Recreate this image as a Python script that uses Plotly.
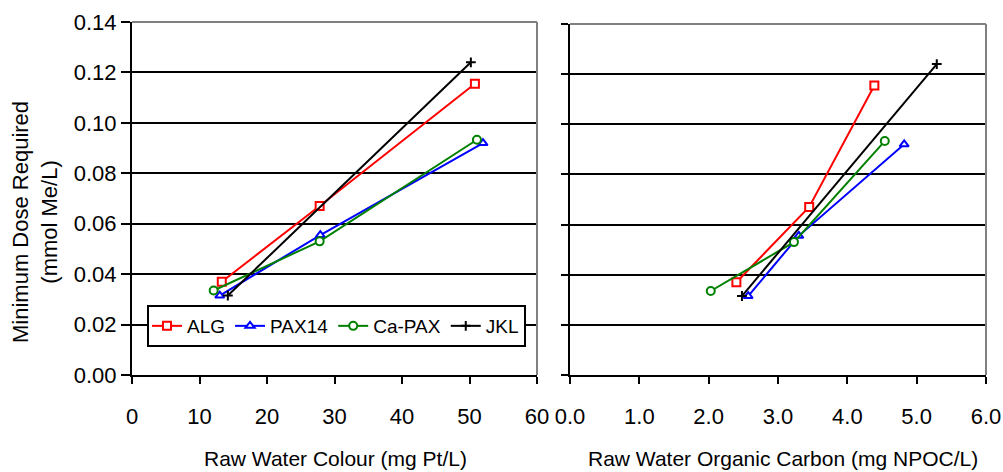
import plotly.graph_objects as go

# ---- data ----
series_names = ["ALG", "PAX14", "Ca-PAX", "JKL"]
colour_x = {
    "ALG": [13.3, 27.8, 50.8],
    "PAX14": [13.0, 27.9, 52.0],
    "Ca-PAX": [12.1, 27.8, 51.1],
    "JKL": [14.2, 50.2],
}
npoc_x = {
    "ALG": [2.40, 3.45, 4.39],
    "PAX14": [2.57, 3.30, 4.82],
    "Ca-PAX": [2.03, 3.23, 4.54],
    "JKL": [2.48, 5.29],
}
dose = {
    "ALG": [0.037, 0.067, 0.1155],
    "PAX14": [0.0315, 0.0555, 0.092],
    "Ca-PAX": [0.0335, 0.053, 0.0933],
    "JKL": [0.0315, 0.124],
}
y_ticks = [0.00, 0.02, 0.04, 0.06, 0.08, 0.10, 0.12, 0.14]
x1_ticks = [0, 10, 20, 30, 40, 50, 60]
x2_ticks = [0.0, 1.0, 2.0, 3.0, 4.0, 5.0, 6.0]

colors = {"ALG": "#FF0000", "PAX14": "#0000FF", "Ca-PAX": "#008000", "JKL": "#000000"}
symbols = {"ALG": "square", "PAX14": "triangle-up", "Ca-PAX": "circle", "JKL": "cross-thin"}

FONT = "Liberation Sans, Arial, sans-serif"
W, H = 1003, 472

fig = go.Figure()
for name in series_names:
    c = colors[name]
    if name == "JKL":
        mk = dict(symbol="cross-thin", size=7, color=c, line=dict(color=c, width=2))
    else:
        mk = dict(symbol=symbols[name], size=8, color="white", line=dict(color=c, width=2))
    fig.add_trace(go.Scatter(x=colour_x[name], y=dose[name], mode="lines+markers", name=name,
                             line=dict(color=c, width=2), marker=mk, xaxis="x", yaxis="y",
                             legendgroup=name, cliponaxis=False))
    fig.add_trace(go.Scatter(x=npoc_x[name], y=dose[name], mode="lines+markers", name=name,
                             line=dict(color=c, width=2), marker=mk, xaxis="x2", yaxis="y2",
                             legendgroup=name, showlegend=False, cliponaxis=False))

# pixel -> paper helpers
def px(x):
    return x / W

def py(y):
    return 1 - y / H

axis_common = dict(showline=True, linecolor="black", linewidth=2, ticks="outside",
                   tickcolor="black", tickwidth=2, zeroline=False, automargin=False,
                   tickfont=dict(family=FONT, size=22, color="black"))

fig.update_layout(
    template="none",
    width=W, height=H, margin=dict(l=0, r=0, t=0, b=0, autoexpand=False),
    paper_bgcolor="white", plot_bgcolor="white",
    font=dict(family=FONT, size=22, color="black"),
    xaxis=dict(domain=[px(132), px(537)], range=[0, 60], tickvals=x1_ticks,
               ticktext=[str(v) for v in x1_ticks], ticklen=7, anchor="y",
               showgrid=False, ticklabelstandoff=14, **axis_common),
    yaxis=dict(domain=[py(375), py(22)], range=[0, 0.14], tickvals=y_ticks,
               ticktext=[f"{v:.2f}" for v in y_ticks], ticklen=9, anchor="x",
               showgrid=True, gridcolor="black", gridwidth=2, **axis_common),
    xaxis2=dict(domain=[px(570), px(986)], range=[0, 6], tickvals=x2_ticks,
                ticktext=[f"{v:.1f}" for v in x2_ticks], ticklen=7, anchor="y2",
                showgrid=False, ticklabelstandoff=14, **axis_common),
    yaxis2=dict(domain=[py(375), py(24)], range=[0, 0.14], tickvals=y_ticks,
                showticklabels=False, ticklen=7, anchor="x2",
                showgrid=True, gridcolor="black", gridwidth=2, **axis_common),
    legend=dict(orientation="h", x=px(147), y=py(305), xanchor="left", yanchor="top",
                bgcolor="white", bordercolor="black", borderwidth=2,
                font=dict(family=FONT, size=19, color="black"),
                itemwidth=30, tracegroupgap=0),
    showlegend=True,
)

# grey top/right border of each plot area
for xr, yr in (("x", "y"), ("x2", "y2")):
    fig.add_shape(type="line", xref=f"{xr} domain", yref=f"{yr} domain", x0=0, x1=1, y0=1, y1=1,
                  line=dict(color="#808080", width=2))
    fig.add_shape(type="line", xref=f"{xr} domain", yref=f"{yr} domain", x0=1, x1=1, y0=0, y1=1,
                  line=dict(color="#808080", width=2))

# axis titles
fig.add_annotation(text="Raw Water Colour (mg Pt/L)", xref="paper", yref="paper",
                   x=px(335), y=py(458), showarrow=False, xanchor="center", yanchor="middle",
                   font=dict(family=FONT, size=21, color="black"))
fig.add_annotation(text="Raw Water Organic Carbon (mg NPOC/L)", xref="paper", yref="paper",
                   x=px(783), y=py(458), showarrow=False, xanchor="center", yanchor="middle",
                   font=dict(family=FONT, size=21, color="black"))
fig.add_annotation(text="Minimum Dose Required<br>(mmol Me/L)", xref="paper", yref="paper",
                   x=px(35), y=py(222), showarrow=False, xanchor="center", yanchor="middle",
                   textangle=-90, font=dict(family=FONT, size=22, color="black"))

fig.write_html("out.html")
